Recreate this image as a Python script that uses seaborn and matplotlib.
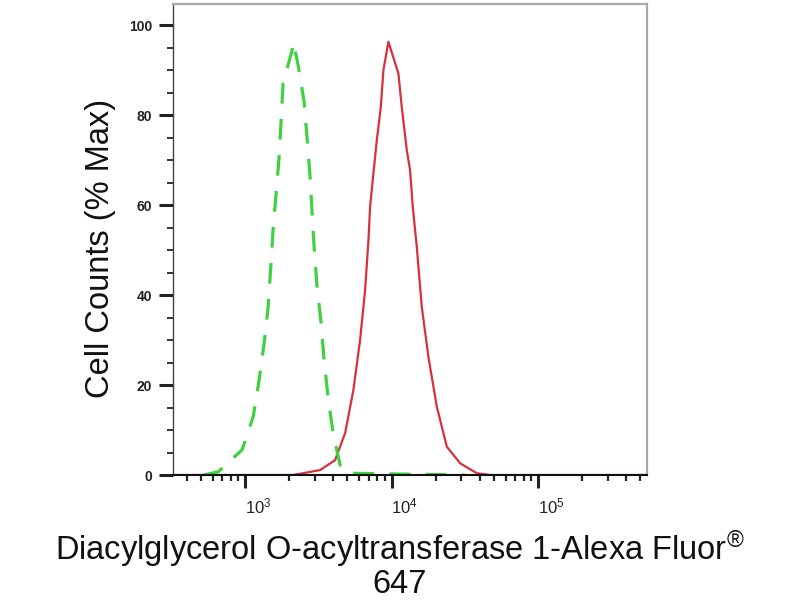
import numpy as np
import pandas as pd
import matplotlib
matplotlib.use('Agg')
import matplotlib.pyplot as plt
import matplotlib.ticker as mticker
from matplotlib.transforms import ScaledTranslation
import seaborn as sns

# Histogram traces (intensity, % of max)
ctrl_x = [520, 655, 954, 1134, 1247, 1349, 1436, 1497, 1552, 1629, 1707, 1762, 1817,
          2083, 2137, 2301, 2529, 2650, 2778, 2866, 2958, 3100, 3301, 3460, 3686,
          3989, 4450, 5044, 31700]
ctrl_y = [0, 0.7, 5.6, 12.9, 21.1, 29.3, 37.3, 46.2, 54.4, 62.7, 70.7, 78.9, 87.1,
          94.1, 96.2, 91.1, 82.9, 74.9, 66.2, 58.2, 50.7, 41.8, 33.8, 25.6, 17.3,
          9.3, 2.2, 0.4, 0]

dgat_x = [325, 2128, 2489, 3251, 4114, 4817, 5487, 6095, 6594, 6950, 7131, 7515, 7927,
          8441, 8795, 9510, 11124, 11738, 12700, 13370, 13950, 14860, 16070, 17830,
          20350, 23830, 29370, 38180, 47000, 554000]
dgat_y = [0, 0, 0.4, 1.1, 3.3, 9.3, 18.9, 30.0, 41.1, 52.2, 59.6, 67.1, 74.4,
          81.8, 90.0, 96.3, 89.3, 81.8, 72.2, 67.8, 59.6, 50.7, 37.4, 26.3,
          15.2, 6.3, 2.6, 0.4, 0, 0]

x_ticks = [1e3, 1e4, 1e5]
x_ticklabels = ['$10^3$', '$10^4$', '$10^5$']
y_ticks = [0, 20, 40, 60, 80, 100]

df = pd.concat([
    pd.DataFrame({'intensity': dgat_x, 'pct': dgat_y, 'sample': 'DGAT1'}),
    pd.DataFrame({'intensity': ctrl_x, 'pct': ctrl_y, 'sample': 'Isotype'}),
])

sns.set_style('white')
plt.rcParams['font.family'] = ['Liberation Sans', 'DejaVu Sans']
plt.rcParams['mathtext.fontset'] = 'custom'
plt.rcParams['mathtext.rm'] = 'Liberation Sans'
plt.rcParams['mathtext.it'] = 'Liberation Sans'

fig = plt.figure(figsize=(8, 6), dpi=100)
ax = fig.add_axes([0.21625, 0.20833, 0.5925, 0.785])
ax.set_xscale('log')

sns.lineplot(data=df, x='intensity', y='pct', hue='sample', style='sample',
             palette={'DGAT1': '#d8303c', 'Isotype': '#3fd13f'},
             dashes={'DGAT1': '', 'Isotype': (6.5, 4.8)},
             linewidth=1.6, legend=False, ax=ax)
# the dashed control trace is a bit heavier
ax.lines[1].set_linewidth(2.3)

ax.set_xlim(322, 554000)
ax.set_ylim(0, 104.7)

ax.xaxis.set_major_locator(mticker.FixedLocator(x_ticks))
ax.xaxis.set_major_formatter(mticker.FixedFormatter(x_ticklabels))
ax.xaxis.set_minor_locator(mticker.LogLocator(base=10, subs=np.arange(2, 10)))
ax.xaxis.set_minor_formatter(mticker.NullFormatter())
ax.yaxis.set_major_locator(mticker.FixedLocator(y_ticks))
ax.yaxis.set_minor_locator(mticker.MultipleLocator(5))

ax.tick_params(which='both', bottom=True, left=True, top=False, right=False)
ax.tick_params(axis='x', which='major', direction='out', length=9.5, width=2.2,
               color='#222222', labelsize=12, pad=6)
ax.tick_params(axis='x', which='minor', direction='out', length=4.5, width=1.6,
               color='#222222')
ax.tick_params(axis='y', which='major', direction='out', length=10, width=2.2,
               color='#222222', labelsize=10, pad=5)
ax.tick_params(axis='y', which='minor', direction='out', length=4, width=1.4,
               color='#333333')
for lab in ax.get_yticklabels():
    lab.set_fontweight('bold')
    lab.set_color('#222222')
# x labels sit a little right of their ticks in the reference
for lab in ax.get_xticklabels():
    lab.set_color('#222222')
    lab.set_transform(lab.get_transform() + ScaledTranslation(0.13, 0, fig.dpi_scale_trans))

for side in ['top', 'right']:
    ax.spines[side].set_color('#a8a8a8')
    ax.spines[side].set_linewidth(1.6)
ax.spines['left'].set_color('#444444')
ax.spines['left'].set_linewidth(1.0)
ax.spines['bottom'].set_color('#111111')
ax.spines['bottom'].set_linewidth(1.5)

ax.set_ylabel('Cell Counts (% Max)', fontsize=23.5, color='#111111')
ax.yaxis.set_label_coords(-0.12, 0.48)
ax.set_xlabel('Diacylglycerol O-acyltransferase 1-Alexa Fluor$^{®}$\n647',
              fontsize=23.5, linespacing=1.0, color='#111111')
ax.xaxis.set_label_coords(0.479, -0.112)

fig.savefig('out.png', dpi=100)
